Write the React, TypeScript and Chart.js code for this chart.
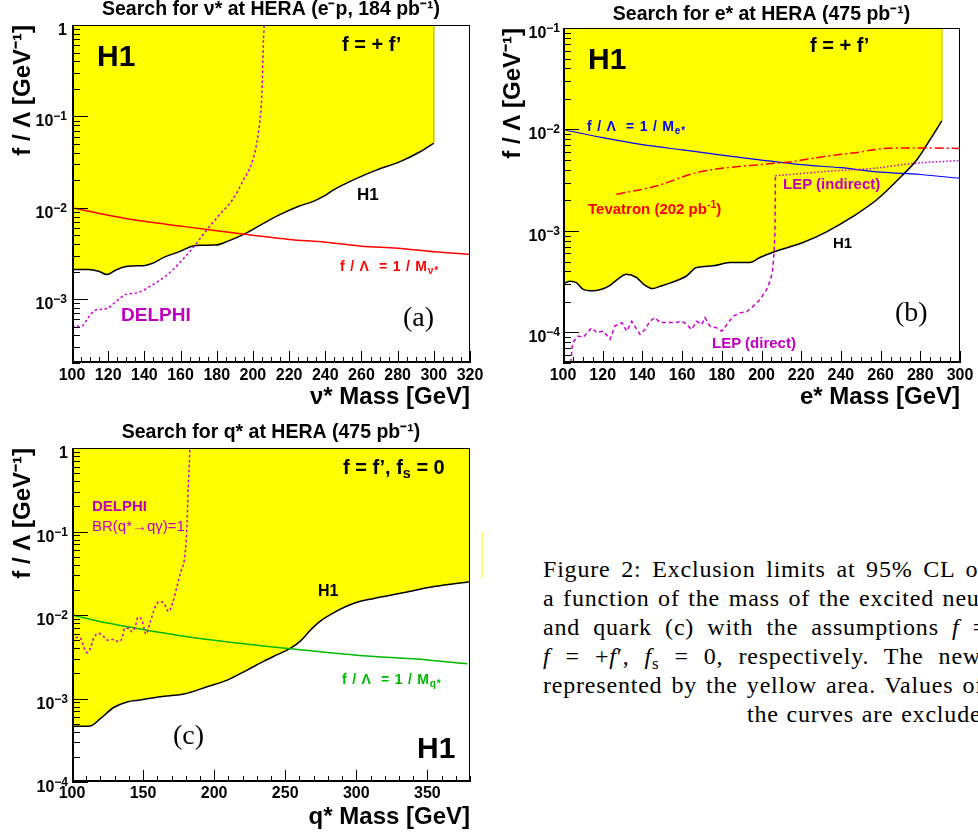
import React, { useEffect, useRef } from "react";
import { Chart, registerables } from "chart.js";
Chart.register(...registerables);

const SANS = "'Liberation Sans', Arial, Helvetica, sans-serif";
const SERIF = "'Liberation Serif', 'Times New Roman', serif";

// ---------------- Panel (a): excited neutrino ----------------
const nuXTicks = [100, 120, 140, 160, 180, 200, 220, 240, 260, 280, 300, 320];
const nuYTicks = [1e-3, 1e-2, 1e-1, 1];
const nuYTickLabels = ["10^-3", "10^-2", "10^-1", "1"];
const nuH1Mass = [100, 109.2, 114.7, 119.3, 124, 128.6, 133.2, 139.6, 144.2, 150.7, 159, 166.3, 170.9, 179.2, 186.6, 194, 203.2, 214.3, 225.3, 232.7, 239, 244.6, 255.6, 268.5, 281.4, 292.4, 300];
const nuH1Limit = [2.11e-3, 2.11e-3, 2.02e-3, 1.86e-3, 2.07e-3, 2.25e-3, 2.31e-3, 2.32e-3, 2.45e-3, 2.86e-3, 3.29e-3, 3.79e-3, 3.89e-3, 3.9e-3, 4.34e-3, 5.01e-3, 6.29e-3, 8.3e-3, 1.04e-2, 1.16e-2, 1.33e-2, 1.57e-2, 2.02e-2, 2.6e-2, 3.2e-2, 4.1e-2, 5.1e-2];
const nuDelphiMass = [100, 105.5, 109.2, 112.9, 119.3, 124, 129.5, 135.9, 144.2, 153.4, 160.8, 167.3, 173.5, 181.3, 189.2, 194.7, 199.3, 202.1, 203.9, 204.9, 205.4, 205.7, 206.1, 206.2];
const nuDelphiLimit = [5.05e-4, 5.1e-4, 6.38e-4, 7.55e-4, 7.88e-4, 9.3e-4, 1.12e-3, 1.17e-3, 1.42e-3, 1.9e-3, 2.67e-3, 3.73e-3, 5.4e-3, 8.3e-3, 1.26e-2, 2.0e-2, 3.05e-2, 5.06e-2, 9.1e-2, 0.164, 0.321, 0.578, 0.88, 1.0];
const nuCouplingMass = [100, 120, 140, 160, 180, 200, 220, 240, 260, 280, 300, 320];
const nuCouplingLimit = [0.01, 0.0083, 0.0071, 0.0063, 0.0056, 0.005, 0.0045, 0.0042, 0.0038, 0.0036, 0.0033, 0.0031];
const nuEdgeMass = [300, 300];
const nuEdgeLimit = [5.1e-2, 1];

// ---------------- Panel (b): excited electron ----------------
const eXTicks = [100, 120, 140, 160, 180, 200, 220, 240, 260, 280, 300];
const eYTicks = [1e-4, 1e-3, 1e-2, 1e-1];
const eYTickLabels = ["10^-4", "10^-3", "10^-2", "10^-1"];
const eH1Mass = [100, 103.4, 106.7, 110, 115, 119, 123.5, 128, 131.9, 137, 141, 145.4, 149, 153.8, 162.2, 167.2, 175.6, 184, 194.1, 199.2, 206.8, 220.9, 233, 246.1, 258.2, 271.3, 278.3, 284.9, 290.9];
const eH1Limit = [2.99e-4, 3.2e-4, 3.1e-4, 2.67e-4, 2.57e-4, 2.65e-4, 2.9e-4, 3.4e-4, 3.75e-4, 3.48e-4, 2.95e-4, 2.71e-4, 2.85e-4, 3.06e-4, 3.6e-4, 4.36e-4, 4.53e-4, 4.89e-4, 4.89e-4, 5.47e-4, 6.27e-4, 7.69e-4, 9.86e-4, 1.39e-3, 2.04e-3, 3.59e-3, 5.04e-3, 7.93e-3, 1.22e-2];
const eCouplingMass = [100, 120, 140, 160, 180, 200, 220, 240, 260, 280, 300];
const eCouplingLimit = [0.01, 0.0083, 0.0071, 0.0063, 0.0056, 0.005, 0.0045, 0.0042, 0.0038, 0.0036, 0.0033];
const tevatronMass = [126.9, 147, 167, 187.4, 199, 215.9, 231, 246, 266, 283, 300];
const tevatronLimit = [2.3e-3, 2.77e-3, 3.75e-3, 4.3e-3, 4.5e-3, 4.84e-3, 5.4e-3, 5.86e-3, 6.56e-3, 6.56e-3, 6.5e-3];
const lepIndirectMass = [207, 232.8, 258, 274.8, 300];
const lepIndirectLimit = [3.5e-3, 3.86e-3, 4.17e-3, 4.6e-3, 4.95e-3];
const lepDirectMass = [104, 104.5, 105.5, 107.7, 110.2, 114.4, 117, 120.3, 123.7, 126.2, 129.6, 132.1, 134.6, 138.8, 141.3, 143.8, 146.3, 148.9, 152.2, 156.4, 159.8, 162.3, 164.8, 167.3, 169.9, 171.5, 174, 177.4, 180, 183.3, 185.8, 189.2, 192.5, 195.9, 199.2, 202.6, 204.6, 205.5, 206.3, 206.8, 207];
const lepDirectLimit = [5e-5, 7e-5, 8.24e-5, 9.2e-5, 8.95e-5, 1.11e-4, 9.96e-5, 1.03e-4, 8.55e-5, 1.16e-4, 1.25e-4, 1.03e-4, 1.29e-4, 9.57e-5, 1.07e-4, 1.29e-4, 1.4e-4, 1.25e-4, 1.25e-4, 1.25e-4, 1.29e-4, 1.2e-4, 1.07e-4, 1.29e-4, 1.2e-4, 1.4e-4, 1.16e-4, 1.11e-4, 1.03e-4, 1.25e-4, 1.45e-4, 1.56e-4, 1.6e-4, 1.82e-4, 2.11e-4, 2.65e-4, 3.33e-4, 4.0e-4, 6e-4, 1e-3, 3.5e-3];
const eEdgeMass = [290.9, 290.9];
const eEdgeLimit = [1.22e-2, 0.1];

// ---------------- Panel (c): excited quark ----------------
const qXTicks = [100, 150, 200, 250, 300, 350];
const qYTicks = [1e-4, 1e-3, 1e-2, 1e-1, 1];
const qYTickLabels = ["10^-4", "10^-3", "10^-2", "10^-1", "1"];
const qH1Mass = [100, 112.9, 120, 129.3, 138.7, 148.1, 162.2, 178.6, 195, 209.2, 223.2, 235, 244.4, 253.8, 260.8, 267.8, 274.9, 284.3, 298.4, 312.4, 331.2, 354.7, 380];
const qH1Limit = [4.66e-4, 4.7e-4, 5.75e-4, 7.8e-4, 9.1e-4, 9.6e-4, 1.05e-3, 1.13e-3, 1.38e-3, 1.66e-3, 2.19e-3, 2.8e-3, 3.35e-3, 4.0e-3, 4.9e-3, 6.6e-3, 8.5e-3, 1.07e-2, 1.38e-2, 1.58e-2, 1.82e-2, 2.19e-2, 2.51e-2];
const qCouplingMass = [100, 125, 150, 175, 200, 250, 300, 350, 378];
const qCouplingLimit = [0.01, 0.008, 0.0067, 0.0057, 0.005, 0.004, 0.0033, 0.0029, 0.0026];
const qDelphiMass = [100, 103.5, 105.9, 108.2, 110.6, 112.9, 115.2, 118.7, 122.3, 124.6, 129.3, 132.8, 135.2, 137.1, 139.9, 142.2, 144.5, 146.4, 149.2, 152.1, 155.1, 158.6, 161.4, 164.5, 168, 170.8, 173.8, 176.9, 179, 180.7, 181.8, 183];
const qDelphiLimit = [4.8e-3, 5.4e-3, 5.3e-3, 4.17e-3, 3.54e-3, 3.99e-3, 5.26e-3, 6.04e-3, 5.5e-3, 5.02e-3, 5.1e-3, 4.8e-3, 5.26e-3, 6.93e-3, 6.93e-3, 6.3e-3, 7.24e-3, 9.38e-3, 8.7e-3, 5.92e-3, 8.3e-3, 1.26e-2, 1.44e-2, 1.39e-2, 1.1e-2, 1.39e-2, 2.18e-2, 3.46e-2, 4.56e-2, 0.1, 0.344, 1.0];

const YELLOW = "#ffff00";
const MAGENTA = "#cc00cc";

type Line = {
  mass: number[];
  limit: number[];
  color: string;
  width?: number;
  dash?: number[];
  fill?: boolean;
  smooth?: boolean;
  order: number;
};

type PanelSpec = {
  title: string;
  titlePad: { top: number; bottom: number };
  xTitle: string;
  xTitleBottom: number;
  xMin: number;
  xMax: number;
  xTicks: number[];
  xMajor: number;
  xMinor: number;
  yMin: number;
  yMax: number;
  yTicks: number[];
  yTickLabels: string[];
  yAxisWidth: number;
  xAxisHeight: number;
  padRight: number;
  xLabelPad: number;
  yLabelGap: number;
  lines: Line[];
};

// ROOT-style frame: inward ticks, frame box and "10^n" tick labels
const rootFrame = {
  id: "rootFrame",
  afterDatasetsDraw(chart: any, _args: any, o: any) {
    const { ctx, chartArea: a, scales } = chart;
    const x = scales.x;
    const y = scales.y;
    ctx.save();
    ctx.strokeStyle = "#000";
    ctx.lineWidth = 1;
    ctx.beginPath();
    for (let v = o.xMin; v <= o.xMax + 1e-6; v += o.xMinor) {
      const px = Math.round(x.getPixelForValue(v)) + 0.5;
      const len = Math.abs(v % o.xMajor) < 1e-6 ? 12 : 6;
      ctx.moveTo(px, a.bottom);
      ctx.lineTo(px, a.bottom - len);
    }
    const k0 = Math.floor(Math.log10(o.yMin));
    const k1 = Math.ceil(Math.log10(o.yMax));
    for (let k = k0; k <= k1; k++) {
      for (let m = 1; m <= 9; m++) {
        const v = m * Math.pow(10, k);
        if (v < o.yMin * 0.999 || v > o.yMax * 1.001) continue;
        const py = Math.round(y.getPixelForValue(v)) + 0.5;
        const len = m === 1 ? 16 : 8;
        ctx.moveTo(a.left, py);
        ctx.lineTo(a.left + len, py);
      }
    }
    ctx.stroke();
    ctx.strokeRect(a.left + 0.5, a.top + 0.5, a.right - a.left - 1, a.bottom - a.top - 1);
    ctx.lineWidth = 2;
    ctx.beginPath();
    ctx.moveTo(a.left + 1, a.top);
    ctx.lineTo(a.left + 1, a.bottom - 1);
    ctx.lineTo(a.right, a.bottom - 1);
    ctx.stroke();
  },
  afterDraw(chart: any, _args: any, o: any) {
    const { ctx, chartArea: a, scales } = chart;
    const y = scales.y;
    ctx.save();
    ctx.fillStyle = "#000";
    ctx.textBaseline = "alphabetic";
    ctx.textAlign = "left";
    const right = a.left - o.yLabelGap;
    o.yTicks.forEach((v: number, i: number) => {
      const py = y.getPixelForValue(v);
      const [base, exp] = String(o.yTickLabels[i]).split("^");
      ctx.font = `bold 12px ${SANS}`;
      const expText = exp ? exp.replace("-", "−") : "";
      const wExp = exp ? ctx.measureText(expText).width : 0;
      ctx.font = `bold 16px ${SANS}`;
      const wBase = ctx.measureText(base).width;
      const xb = right - wExp - wBase;
      ctx.fillText(base, xb, py + 10);
      if (exp) {
        ctx.font = `bold 12px ${SANS}`;
        ctx.fillText(expText, xb + wBase, py + 4);
      }
    });
    ctx.restore();
  },
};

function makeConfig(p: PanelSpec): any {
  const tickFont = { family: SANS, size: 16, weight: "bold" as const };
  return {
    type: "line",
    data: {
      datasets: p.lines.map((l) => ({
        data: l.mass.map((m, i) => ({ x: m, y: l.limit[i] })),
        borderColor: l.color,
        borderWidth: l.width ?? 1.5,
        borderDash: l.dash ?? [],
        backgroundColor: YELLOW,
        fill: l.fill ? "end" : false,
        pointRadius: 0,
        tension: 0,
        cubicInterpolationMode: l.smooth ? "monotone" : "default",
        order: l.order,
      })),
    },
    options: {
      animation: false,
      responsive: false,
      maintainAspectRatio: false,
      devicePixelRatio: 1,
      events: [],
      layout: { padding: { left: 0, top: 0, right: p.padRight, bottom: 0 } },
      plugins: {
        legend: { display: false },
        tooltip: { enabled: false },
        title: {
          display: true,
          text: p.title,
          fullSize: false,
          color: "#000",
          font: { family: SANS, size: 19.5, weight: "bold", lineHeight: 1 },
          padding: p.titlePad,
        },
        rootFrame: {
          xMin: p.xMin, xMax: p.xMax, xMajor: p.xMajor, xMinor: p.xMinor,
          yMin: p.yMin, yMax: p.yMax, yTicks: p.yTicks, yTickLabels: p.yTickLabels,
          yLabelGap: p.yLabelGap,
        },
      },
      scales: {
        x: {
          type: "linear",
          min: p.xMin,
          max: p.xMax,
          grid: { display: false, drawTicks: false },
          border: { display: false },
          afterBuildTicks: (s: any) => {
            s.ticks = p.xTicks.map((v) => ({ value: v }));
          },
          ticks: {
            autoSkip: false,
            maxRotation: 0,
            color: "#000",
            font: tickFont,
            padding: p.xLabelPad,
            callback: (v: number) => String(v),
          },
          title: {
            display: true,
            text: p.xTitle,
            align: "end",
            color: "#000",
            font: { family: SANS, size: 24, weight: "bold" },
            padding: { top: 0, bottom: p.xTitleBottom },
          },
          afterFit: (s: any) => {
            s.height = p.xAxisHeight;
          },
        },
        y: {
          type: "logarithmic",
          min: p.yMin,
          max: p.yMax,
          grid: { display: false, drawTicks: false },
          border: { display: false },
          afterBuildTicks: (s: any) => {
            s.ticks = p.yTicks.map((v) => ({ value: v }));
          },
          ticks: { display: false },
          title: {
            display: true,
            text: "f / Λ [GeV⁻¹]",
            align: "end",
            color: "#000",
            font: { family: SANS, size: 24, weight: "bold" },
            padding: { top: 9, bottom: 0 },
          },
          afterFit: (s: any) => {
            s.width = p.yAxisWidth;
          },
        },
      },
    },
    plugins: [rootFrame],
  };
}

const panelA: PanelSpec = {
  title: "Search for ν* at HERA (e⁻p, 184 pb⁻¹)",
  titlePad: { top: 0.25, bottom: 5.25 },
  xTitle: "ν* Mass [GeV]",
  xTitleBottom: 8,
  xMin: 100, xMax: 320, xTicks: nuXTicks, xMajor: 20, xMinor: 5,
  yMin: 2e-4, yMax: 1, yTicks: nuYTicks, yTickLabels: nuYTickLabels,
  yAxisWidth: 72, xAxisHeight: 57, padRight: 20, xLabelPad: 3, yLabelGap: 5,
  lines: [
    { mass: nuH1Mass, limit: nuH1Limit, color: "#000", fill: true, smooth: true, order: 10 },
    { mass: nuEdgeMass, limit: nuEdgeLimit, color: "#c4c400", width: 1.5, order: 9 },
    { mass: nuCouplingMass, limit: nuCouplingLimit, color: "#ff0000", smooth: true, order: 2 },
    { mass: nuDelphiMass, limit: nuDelphiLimit, color: MAGENTA, dash: [2.5, 2.5], smooth: true, order: 1 },
  ],
};

const panelB: PanelSpec = {
  title: "Search for e* at HERA (475 pb⁻¹)",
  titlePad: { top: 5.25, bottom: 3.25 },
  xTitle: "e* Mass [GeV]",
  xTitleBottom: 8,
  xMin: 100, xMax: 300, xTicks: eXTicks, xMajor: 20, xMinor: 5,
  yMin: 5e-5, yMax: 0.1, yTicks: eYTicks, yTickLabels: eYTickLabels,
  yAxisWidth: 73, xAxisHeight: 57, padRight: 18, xLabelPad: 3, yLabelGap: 3,
  lines: [
    { mass: eH1Mass, limit: eH1Limit, color: "#000", fill: true, smooth: true, order: 10 },
    { mass: eEdgeMass, limit: eEdgeLimit, color: "#d8d800", width: 1.5, order: 9 },
    { mass: eCouplingMass, limit: eCouplingLimit, color: "#0000ff", width: 1.2, smooth: true, order: 4 },
    { mass: tevatronMass, limit: tevatronLimit, color: "#ff0000", dash: [9, 3, 2, 3], smooth: true, order: 3 },
    { mass: lepIndirectMass, limit: lepIndirectLimit, color: MAGENTA, dash: [1.5, 2], smooth: true, order: 2 },
    { mass: lepDirectMass, limit: lepDirectLimit, color: MAGENTA, dash: [4, 3], order: 1 },
  ],
};

const panelC: PanelSpec = {
  title: "Search for q* at HERA (475 pb⁻¹)",
  titlePad: { top: 3.25, bottom: 5.25 },
  xTitle: "q* Mass [GeV]",
  xTitleBottom: 5,
  xMin: 100, xMax: 380, xTicks: qXTicks, xMajor: 50, xMinor: 10,
  yMin: 1e-4, yMax: 1, yTicks: qYTicks, yTickLabels: qYTickLabels,
  yAxisWidth: 72, xAxisHeight: 55, padRight: 20, xLabelPad: 2, yLabelGap: 4,
  lines: [
    { mass: qH1Mass, limit: qH1Limit, color: "#000", fill: true, smooth: true, order: 10 },
    { mass: qCouplingMass, limit: qCouplingLimit, color: "#00b800", smooth: true, order: 2 },
    { mass: qDelphiMass, limit: qDelphiLimit, color: MAGENTA, dash: [2.5, 2.5], smooth: true, order: 1 },
  ],
};

function Panel({ spec, left, top, width, height }: { spec: PanelSpec; left: number; top: number; width: number; height: number }) {
  const ref = useRef<HTMLCanvasElement>(null);
  useEffect(() => {
    const chart = new Chart(ref.current as HTMLCanvasElement, makeConfig(spec));
    return () => chart.destroy();
  }, [spec]);
  return (
    <canvas
      ref={ref}
      width={width}
      height={height}
      style={{ position: "absolute", left, top, width, height }}
    />
  );
}

function Label({ x, y, size, color = "#000", bold = true, family = SANS, spacing = 0, children }: any) {
  return (
    <div
      style={{
        position: "absolute",
        left: x,
        top: y,
        fontSize: size,
        color,
        fontWeight: bold ? "bold" : "normal",
        fontFamily: family,
        lineHeight: 1,
        letterSpacing: spacing,
        whiteSpace: "pre",
      }}
    >
      {children}
    </div>
  );
}

const Sub = ({ children }: any) => (
  <span style={{ fontSize: "0.72em", position: "relative", top: "0.3em" }}>{children}</span>
);

function CaptionLine({ x, y, w, children }: any) {
  return (
    <div
      style={{
        position: "absolute",
        left: x,
        top: y,
        width: w,
        fontFamily: SERIF,
        fontSize: 24,
        lineHeight: "29px",
        letterSpacing: 0.8,
        textAlign: "justify",
        textAlignLast: "justify" as any,
        color: "#000",
      }}
    >
      {children}
    </div>
  );
}

export default function App() {
  return (
    <div
      style={{
        position: "absolute",
        left: 0,
        top: 0,
        width: 978,
        height: 837,
        overflow: "hidden",
        background: "#fff",
      }}
    >
      <Panel spec={panelA} left={0} top={0} width={490} height={420} />
      <Panel spec={panelB} left={490} top={0} width={488} height={420} />
      <Panel spec={panelC} left={0} top={420} width={490} height={417} />

      {/* panel (a) annotations */}
      <Label x={97} y={41} size={30}>H1</Label>
      <Label x={342} y={34} size={20}>f = + f’</Label>
      <Label x={357} y={186} size={17}>H1</Label>
      <Label x={340} y={259} size={14} spacing={0.8} color="#ff0000">
        f / Λ  = 1 / M<Sub>ν*</Sub>
      </Label>
      <Label x={121} y={305} size={19} color="#c000c0">DELPHI</Label>
      <Label x={403} y={303} size={28} bold={false} family={SERIF}>(a)</Label>

      {/* panel (b) annotations */}
      <Label x={588} y={44} size={30}>H1</Label>
      <Label x={810} y={35} size={20}>f = + f’</Label>
      <Label x={587} y={119} size={14} spacing={0.8} color="#0000ff">
        f / Λ  = 1 / M<Sub>e*</Sub>
      </Label>
      <Label x={588} y={199} size={15} color="#ff0000">
        Tevatron (202 pb<sup style={{ fontSize: "0.7em" }}>-1</sup>)
      </Label>
      <Label x={783} y={176} size={15} color="#c000c0">LEP (indirect)</Label>
      <Label x={833} y={235} size={15}>H1</Label>
      <Label x={895} y={298} size={28} bold={false} family={SERIF}>(b)</Label>
      <Label x={712} y={335} size={15} color="#c000c0">LEP (direct)</Label>

      {/* panel (c) annotations */}
      <Label x={343} y={457} size={20}>
        f = f’, f<Sub>s</Sub> = 0
      </Label>
      <Label x={92} y={498} size={15} color="#c000c0">DELPHI</Label>
      <Label x={92} y={518} size={15} bold={false} color="#c000c0">BR(q*→qγ)=1</Label>
      <Label x={318} y={583} size={16}>H1</Label>
      <Label x={342} y={672} size={14} spacing={0.8} color="#00b800">
        f / Λ  = 1 / M<Sub>q*</Sub>
      </Label>
      <Label x={173} y={721} size={28} bold={false} family={SERIF}>(c)</Label>
      <Label x={417} y={733} size={30}>H1</Label>

      <div style={{ position: "absolute", left: 481, top: 532, width: 2, height: 46, background: "#ffff70" }} />

      {/* caption */}
      <CaptionLine x={543} y={555} w={448}>Figure 2: Exclusion limits at 95% CL on</CaptionLine>
      <CaptionLine x={543} y={584} w={486}>a function of the mass of the excited neutrino</CaptionLine>
      <CaptionLine x={543} y={613} w={444}>
        and quark (c) with the assumptions <i>f</i> =
      </CaptionLine>
      <CaptionLine x={543} y={642} w={438}>
        <i>f</i> = +<i>f</i>′, <i>f</i><span style={{ fontSize: "0.7em", position: "relative", top: "0.3em" }}>s</span> = 0, respectively. The new
      </CaptionLine>
      <CaptionLine x={543} y={671} w={441}>represented by the yellow area. Values of</CaptionLine>
      <CaptionLine x={747} y={700} w={254}>the curves are excluded.</CaptionLine>
    </div>
  );
}
